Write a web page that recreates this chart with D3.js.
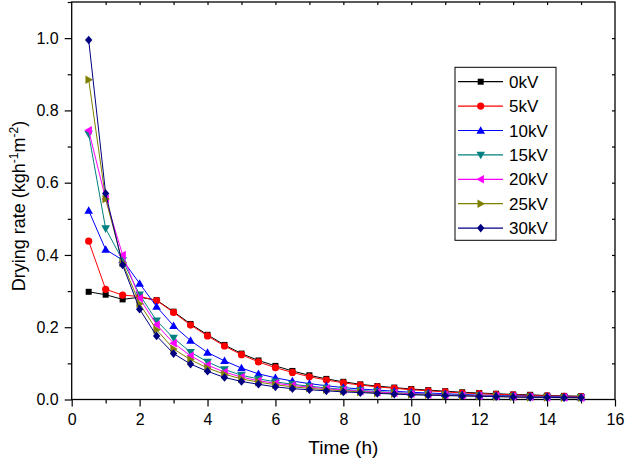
<!DOCTYPE html>
<html><head><meta charset="utf-8">
<script src="https://cdn.jsdelivr.net/npm/d3@7"></script>
<style>body{margin:0;background:#fff}svg{display:block;font-family:"Liberation Sans",Arial,sans-serif}</style>
</head><body>
<svg id="c" width="625" height="463"></svg>
<script>
const times = [0.5,1,1.5,2,2.5,3,3.5,4,4.5,5,5.5,6,6.5,7,7.5,8,8.5,9,9.5,10,10.5,11,11.5,12,12.5,13,13.5,14,14.5,15];
const seriesNames = ["0kV","5kV","10kV","15kV","20kV","25kV","30kV"];
const kv0  = [0.298,0.290,0.277,0.283,0.275,0.243,0.209,0.179,0.151,0.127,0.108,0.093,0.079,0.067,0.057,0.049,0.042,0.037,0.033,0.029,0.026,0.023,0.020,0.018,0.016,0.014,0.013,0.011,0.010,0.009];
const kv5  = [0.438,0.305,0.289,0.285,0.274,0.241,0.206,0.176,0.148,0.124,0.104,0.088,0.075,0.063,0.054,0.046,0.040,0.035,0.031,0.027,0.024,0.021,0.018,0.016,0.014,0.013,0.011,0.010,0.009,0.008];
const kv10 = [0.523,0.415,0.386,0.321,0.257,0.204,0.163,0.130,0.107,0.087,0.071,0.060,0.051,0.044,0.038,0.033,0.029,0.026,0.023,0.020,0.018,0.016,0.014,0.012,0.011,0.010,0.009,0.008,0.007,0.006];
const kv15 = [0.735,0.473,0.385,0.290,0.218,0.170,0.131,0.104,0.083,0.067,0.057,0.049,0.042,0.037,0.032,0.028,0.025,0.022,0.019,0.017,0.015,0.013,0.012,0.011,0.010,0.009,0.008,0.007,0.006,0.006];
const kv20 = [0.745,0.555,0.400,0.280,0.207,0.156,0.121,0.095,0.076,0.062,0.052,0.045,0.039,0.034,0.030,0.026,0.023,0.020,0.018,0.016,0.014,0.012,0.011,0.010,0.009,0.008,0.007,0.006,0.006,0.005];
const kv25 = [0.885,0.555,0.378,0.265,0.193,0.140,0.110,0.087,0.070,0.057,0.048,0.041,0.035,0.031,0.027,0.024,0.021,0.018,0.016,0.014,0.013,0.011,0.010,0.009,0.008,0.007,0.006,0.006,0.005,0.005];
const kv30 = [0.995,0.570,0.372,0.250,0.176,0.127,0.098,0.078,0.061,0.050,0.042,0.035,0.030,0.027,0.024,0.021,0.019,0.017,0.015,0.013,0.012,0.011,0.010,0.009,0.008,0.007,0.006,0.006,0.005,0.005];
const seriesValues = [kv0,kv5,kv10,kv15,kv20,kv25,kv30];
const colors = ["#000000","#FF0000","#0000FF","#008080","#FF00FF","#808000","#000080"];
const xTickLabels = [0,2,4,6,8,10,12,14,16];
const yTickLabels = [0.0,0.2,0.4,0.6,0.8,1.0];

const svg = d3.select("#c");
const L=71.7, R=615, T=2, B=399.5;
const x = d3.scaleLinear().domain([0,16]).range([L,R]);
const y = d3.scaleLinear().domain([0,1.1]).range([B,T]);

// frame
svg.append("rect").attr("x",L).attr("y",T).attr("width",R-L).attr("height",B-T)
  .attr("fill","none").attr("stroke","#000").attr("stroke-width",1.3);

// bottom axis
svg.append("g").attr("transform",`translate(0,${B})`)
  .call(d3.axisBottom(x).tickValues(xTickLabels).tickSize(7).tickPadding(7).tickFormat(d3.format("d")));
svg.append("g").attr("transform",`translate(0,${B})`)
  .call(d3.axisBottom(x).tickValues(d3.range(1,16,2)).tickSize(4).tickFormat(""));
// top axis inward
svg.append("g").attr("transform",`translate(0,${T})`)
  .call(d3.axisBottom(x).tickValues(d3.range(1,16,1)).tickSize(3).tickFormat(""));
// left axis
svg.append("g").attr("transform",`translate(${L},0)`)
  .call(d3.axisLeft(y).tickValues(yTickLabels).tickSize(7).tickPadding(6).tickFormat(d3.format(".1f")));
svg.append("g").attr("transform",`translate(${L},0)`)
  .call(d3.axisLeft(y).tickValues([0.1,0.3,0.5,0.7,0.9,1.1]).tickSize(4).tickFormat(""));
// right axis inward
svg.append("g").attr("transform",`translate(${R},0)`)
  .call(d3.axisLeft(y).tickValues(d3.range(0.1,1.05,0.1)).tickSize(3).tickFormat(""));

svg.selectAll(".domain").remove();
svg.selectAll(".tick line").attr("stroke","#000").attr("stroke-width",1.2);
svg.selectAll(".tick text").attr("font-size",16).attr("fill","#000")
  .attr("font-family","'Liberation Sans',Arial,sans-serif");

// axis titles
svg.append("text").attr("x",(L+R)/2).attr("y",454).attr("text-anchor","middle")
  .attr("font-size",19).text("Time (h)");
const yt = svg.append("text").attr("transform",`translate(25,206) rotate(-90)`)
  .attr("text-anchor","middle").attr("font-size",18);
yt.append("tspan").text("Drying rate (kgh");
yt.append("tspan").attr("dy",-7).attr("font-size",12).text("-1");
yt.append("tspan").attr("dy",7).text("m");
yt.append("tspan").attr("dy",-7).attr("font-size",12).text("-2");
yt.append("tspan").attr("dy",7).text(")");

// markers
function marker(g, i, cx, cy){
  const c = colors[i];
  if(i===0) g.append("rect").attr("x",cx-3).attr("y",cy-3).attr("width",6).attr("height",6).attr("fill",c);
  else if(i===1) g.append("circle").attr("cx",cx).attr("cy",cy).attr("r",3.6).attr("fill",c);
  else {
    let pts;
    const s=4.3;
    if(i===2) pts=[[0,-s],[s,s*0.75],[-s,s*0.75]];
    else if(i===3) pts=[[0,s],[s,-s*0.75],[-s,-s*0.75]];
    else if(i===4) pts=[[-s,0],[s*0.75,-s],[s*0.75,s]];
    else if(i===5) pts=[[s,0],[-s*0.75,-s],[-s*0.75,s]];
    else pts=[[0,-s],[s*0.85,0],[0,s],[-s*0.85,0]];
    g.append("polygon").attr("points",pts.map(p=>[cx+p[0],cy+p[1]].join(",")).join(" ")).attr("fill",c);
  }
}

const line = d3.line().x(d=>x(d[0])).y(d=>y(d[1]));
seriesValues.forEach((vals,i)=>{
  const data = times.map((t,j)=>[t,vals[j]]);
  const g = svg.append("g");
  g.append("path").datum(data).attr("d",line).attr("fill","none").attr("stroke",colors[i]).attr("stroke-width",1);
  data.forEach(d=>marker(g,i,x(d[0]),y(d[1])));
});

// legend
const lg = svg.append("g");
lg.append("rect").attr("x",455).attr("y",67.3).attr("width",101).attr("height",173)
  .attr("fill","#fff").attr("stroke","#000").attr("stroke-width",1);
seriesNames.forEach((n,i)=>{
  const cy = 81.7 + i*24.4;
  lg.append("line").attr("x1",458).attr("x2",503).attr("y1",cy).attr("y2",cy)
    .attr("stroke",colors[i]).attr("stroke-width",1.2);
  marker(lg,i,480.7,cy);
  lg.append("text").attr("x",509).attr("y",cy+6).attr("font-size",17).text(n);
});
</script>
</body></html>
